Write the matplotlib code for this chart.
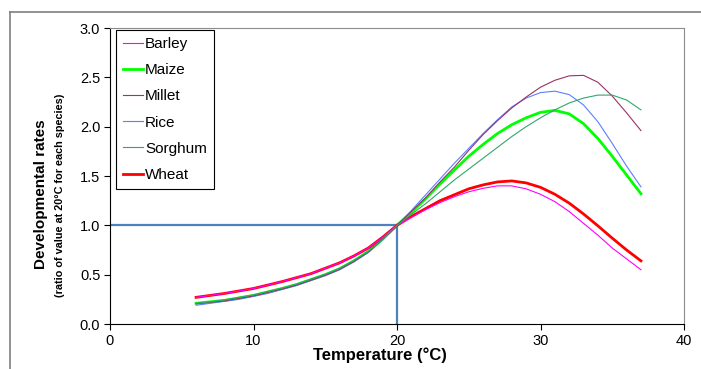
import matplotlib.pyplot as plt
from matplotlib.lines import Line2D
import numpy as np

plt.rcParams['font.family'] = ['Liberation Sans', 'DejaVu Sans']

# temperature (degC) and developmental rate relative to 20 degC
temp = list(range(6, 38))

barley = [0.27, 0.29, 0.31, 0.335, 0.36, 0.395, 0.43, 0.47, 0.51, 0.565, 0.62, 0.69, 0.77, 0.88, 1.0,
          1.08, 1.16, 1.23, 1.29, 1.34, 1.375, 1.40, 1.40, 1.37, 1.315, 1.24, 1.14, 1.02, 0.90, 0.77, 0.66, 0.55]
maize = [0.21, 0.225, 0.24, 0.265, 0.29, 0.325, 0.36, 0.40, 0.45, 0.50, 0.56, 0.64, 0.735, 0.86, 1.0,
         1.13, 1.27, 1.42, 1.56, 1.70, 1.82, 1.93, 2.02, 2.09, 2.145, 2.165, 2.13, 2.03, 1.88, 1.70, 1.51, 1.32]
millet = [0.205, 0.22, 0.235, 0.26, 0.285, 0.32, 0.355, 0.395, 0.445, 0.495, 0.555, 0.635, 0.73, 0.86, 1.0,
          1.14, 1.28, 1.44, 1.59, 1.76, 1.92, 2.06, 2.19, 2.30, 2.40, 2.47, 2.515, 2.52, 2.45, 2.31, 2.14, 1.96]
rice = [0.19, 0.21, 0.23, 0.25, 0.28, 0.31, 0.35, 0.39, 0.44, 0.49, 0.55, 0.63, 0.725, 0.855, 1.0,
        1.15, 1.31, 1.47, 1.63, 1.78, 1.93, 2.07, 2.20, 2.29, 2.345, 2.36, 2.325, 2.22, 2.05, 1.83, 1.60, 1.39]
sorghum = [0.21, 0.225, 0.245, 0.27, 0.295, 0.33, 0.365, 0.405, 0.455, 0.505, 0.565, 0.645, 0.735, 0.86, 1.0,
           1.11, 1.22, 1.34, 1.46, 1.57, 1.68, 1.79, 1.90, 2.00, 2.09, 2.17, 2.24, 2.29, 2.32, 2.32, 2.27, 2.17]
wheat = [0.27, 0.29, 0.31, 0.335, 0.36, 0.395, 0.43, 0.47, 0.51, 0.565, 0.62, 0.69, 0.77, 0.88, 1.0,
         1.09, 1.17, 1.25, 1.31, 1.37, 1.41, 1.44, 1.45, 1.43, 1.385, 1.315, 1.225, 1.115, 0.995, 0.87, 0.75, 0.64]

fig = plt.figure(figsize=(7.01, 3.69), dpi=100)
ax = fig.add_axes([110/701, 45/369, 574/701, 296/369])

# outer frame (top and left only visible)
fig.add_artist(Line2D([10/701, 10/701], [0, 1 - 12/369], transform=fig.transFigure, color='#7f7f7f', lw=1.2))
fig.add_artist(Line2D([10/701, 1], [1 - 12/369, 1 - 12/369], transform=fig.transFigure, color='#7f7f7f', lw=1.2))

# reference lines at 20 degC
ax.plot([0, 20], [1.0, 1.0], color='#4f81bd', lw=1.6, zorder=1)
ax.plot([20, 20], [0, 1.0], color='#4f81bd', lw=1.6, zorder=1)

ax.plot(temp, barley, color='#ff00ff', lw=0.8, label='Barley', zorder=3)
ax.plot(temp, maize, color='#00ff00', lw=2.0, label='Maize', zorder=2)
ax.plot(temp, millet, color='#993366', lw=0.8, label='Millet', zorder=3)
ax.plot(temp, rice, color='#5b7fff', lw=0.8, label='Rice', zorder=2)
ax.plot(temp, sorghum, color='#2ea86a', lw=0.8, label='Sorghum', zorder=3)
ax.plot(temp, wheat, color='#ff0000', lw=2.0, label='Wheat', zorder=2)

ax.set_xlim(0, 40)
ax.set_ylim(0, 3.0)
ax.set_xticks([0, 10, 20, 30, 40])
ax.set_yticks(np.arange(0, 3.01, 0.5))
ax.set_yticklabels(['%.1f' % v for v in np.arange(0, 3.01, 0.5)])
ax.tick_params(direction='out', length=4, width=0.8, labelsize=10.5, pad=3)

for s in ['top', 'right']:
    ax.spines[s].set_color('#8c8c8c')
for s in ['left', 'bottom']:
    ax.spines[s].set_color('black')

fig.text(380/701, 1 - 355/369, 'Temperature (°C)', fontsize=12, fontweight='bold',
         ha='center', va='center')
fig.text(41/701, 1 - 194/369, 'Developmental rates', rotation=90, fontsize=11,
         fontweight='bold', ha='center', va='center')
fig.text(60/701, 1 - 195/369, '(ratio of value at 20°C for each species)', rotation=90,
         fontsize=7.8, fontweight='bold', ha='center', va='center')

leg = ax.legend(loc='upper left', bbox_to_anchor=(116/701, 1 - 30/369), bbox_transform=fig.transFigure,
                fancybox=False, edgecolor='black', framealpha=1, fontsize=11,
                handlelength=1.3, handletextpad=0.15, labelspacing=0.8, borderpad=0.45,
                borderaxespad=0)
leg.get_frame().set_linewidth(0.8)

fig.savefig('out.png', dpi=100)
